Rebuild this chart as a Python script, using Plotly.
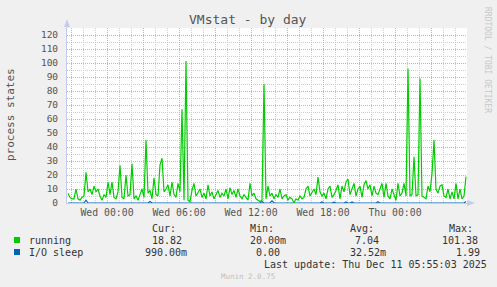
import datetime as dt
import plotly.graph_objects as go

# ---------------- data ----------------
start_time = "2025-12-09 20:45"
step_minutes = 10

running = [
    7, 4, 3, 3, 10, 3, 2, 4, 5, 22,
    8, 10, 6, 12, 8, 10, 5, 2, 6, 4,
    15, 6, 15, 4, 3, 8, 27, 4, 3, 20,
    5, 6, 28, 3, 5, 2, 6, 10, 4, 45,
    7, 9, 3, 18, 6, 5, 27, 32, 8, 10,
    13, 5, 15, 6, 4, 14, 8, 67, 2, 101.38,
    2, 1, 9, 14, 5, 8, 10, 4, 7, 3,
    13, 5, 8, 3, 6, 9, 4, 7, 5, 10,
    3, 11, 6, 9, 4, 10, 5, 3, 6, 4,
    2, 14, 5, 7, 3, 2, 1, 2, 85, 3,
    12, 5, 7, 3, 6, 4, 10, 3, 5, 6,
    2, 4, 3, 0.02, 3, 2, 5, 3, 4, 10,
    12, 5, 8, 10, 6, 18.5, 8, 5, 7, 3,
    10, 12, 4, 6, 9, 13, 3, 12, 8, 15,
    17, 6, 10, 14, 5, 10, 12, 4, 13, 16,
    10, 13, 5, 12, 7, 6, 10, 14, 4, 14,
    5, 3, 10, 6, 2, 14, 5, 7, 14, 5,
    96, 5, 6, 33, 5, 6, 89, 5, 4, 3,
    12, 8, 21, 45, 10, 7, 12, 13, 5, 4,
    10, 3, 8, 3, 14, 3, 10, 3, 5, 18.82,
]

io_sleep = [
    0, 0, 0, 0, 0, 0, 0, 0, 0, 1.99,
    0, 0, 0, 0, 0, 0, 0, 0, 0, 0,
    0, 0, 0, 0, 0, 0, 0, 0, 0, 0,
    0, 0, 0, 0, 0, 0, 0, 0, 0, 0,
    0, 1, 0, 0, 0, 0, 0, 0, 0, 0,
    0, 0, 0, 0, 0, 0, 0, 0, 0, 0,
    0, 0, 0, 0, 0, 0, 0, 0, 0, 0,
    0, 0, 0, 0, 0, 0, 0, 0, 0, 0,
    0, 0, 0, 0, 0, 0, 0, 0, 0, 0,
    0, 0, 0, 0, 0, 0, 0, 1, 0, 0,
    0, 0, 1.5, 0, 0, 0, 0, 0, 0, 0,
    0, 0, 0, 0, 0, 0, 0, 0, 0, 0,
    0, 0, 0, 0, 0, 0, 0, 0.8, 0, 0,
    0, 0, 0, 0.6, 0, 0, 0, 0, 0, 0.8,
    0, 0, 0.7, 0, 0, 0, 0, 0, 0, 0,
    0, 0, 0, 0, 0, 0.9, 0, 0, 0, 0,
    0, 0, 0, 0, 0, 0, 0, 0, 0, 0,
    0, 0, 0, 0, 0, 0, 0, 0, 0, 0,
    0, 0, 0, 0, 0, 0, 0, 0, 0, 0,
    0, 0, 0, 0, 0, 0, 0, 0, 0, 0.99,
]

series_names = ["running", "I/O sleep"]
series_colors = ["#00CC00", "#0066B3"]
legend_header = ["Cur:", "Min:", "Avg:", "Max:"]
legend_values = [
    ["18.82", "20.00m", "7.04", "101.38"],
    ["990.00m", "0.00", "32.52m", "1.99"],
]
x_range = ["2025-12-09 20:40", "2025-12-11 06:00"]
x_tick_times = ["2025-12-09 21:00", "2025-12-10 00:00", "2025-12-10 03:00",
                "2025-12-10 06:00", "2025-12-10 09:00", "2025-12-10 12:00",
                "2025-12-10 15:00", "2025-12-10 18:00", "2025-12-10 21:00",
                "2025-12-11 00:00", "2025-12-11 03:00"]
x_tick_labels = ["", "Wed 00:00", "", "Wed 06:00", "", "Wed 12:00", "",
                 "Wed 18:00", "", "Thu 00:00", ""]
title_text = "VMstat - by day"
y_title = "process states"
last_update = "Last update: Thu Dec 11 05:55:03 2025"
footer = "Munin 2.0.75"
side_text = "RRDTOOL / TOBI OETIKER"

# ---------------- layout geometry ----------------
W, H = 497, 287
L, R, T, B = 67, 467, 28, 203


def px(x):
    return (x - L) / (R - L)


def py(y):
    return (B - y) / (B - T)


t0 = dt.datetime.strptime(start_time, "%Y-%m-%d %H:%M")
times = [t0 + dt.timedelta(minutes=step_minutes * i) for i in range(len(running))]

MONO = "DejaVu Sans Mono"
MGRID = "#eba3a3"
GRID = "#cdcdcd"
AXIS = "#c4cbee"
DASH = "1px,1px"

fig = go.Figure()
fig.add_trace(go.Scatter(x=times, y=io_sleep, mode="lines", name=series_names[1],
                         line=dict(color=series_colors[1], width=1.2)))
fig.add_trace(go.Scatter(x=times, y=running, mode="lines", name=series_names[0],
                         line=dict(color=series_colors[0], width=1.2)))

fig.update_layout(
    width=W, height=H,
    margin=dict(l=L, r=W - R, t=T, b=H - B, pad=0),
    paper_bgcolor="#f0f0f0",
    plot_bgcolor="#ffffff",
    showlegend=False,
    font=dict(family=MONO, size=10, color="#555555"),
)

fig.update_xaxes(
    type="date", range=x_range,
    tickmode="array", tickvals=x_tick_times, ticktext=x_tick_labels,
    showgrid=True, gridcolor=MGRID, griddash=DASH, gridwidth=1,
    minor=dict(tick0="2025-12-09 21:00", dtick=3600000, showgrid=True,
               gridcolor=GRID, griddash=DASH, gridwidth=1, ticklen=0),
    ticks="", showline=True, linecolor=AXIS, linewidth=1,
    tickfont=dict(family=MONO, size=9.8, color="#555555"),
    ticklabelstandoff=0,
    zeroline=False, fixedrange=True,
)
fig.update_yaxes(
    range=[0, 125], dtick=10, tick0=0,
    showgrid=True, gridcolor=MGRID, griddash=DASH, gridwidth=1,
    minor=dict(dtick=5, tick0=0, showgrid=True, gridcolor=GRID,
               griddash=DASH, gridwidth=1, ticklen=0),
    ticks="", showline=True, linecolor=AXIS, linewidth=1,
    tickfont=dict(family=MONO, size=9.5, color="#555555"),
    ticklabelstandoff=6,
    zeroline=False, fixedrange=True,
)


def note(x, y, text, size=10, color="#333333", xanchor="left", angle=0):
    return dict(x=px(x), y=py(y), xref="paper", yref="paper", text=text,
                showarrow=False, textangle=angle,
                font=dict(family=MONO, size=size, color=color),
                xanchor=xanchor, yanchor="middle")


ann = []
ann.append(note(248, 19, title_text, size=13, color="#555555", xanchor="center"))
ann.append(note(10, 115, y_title, size=11, color="#555555", xanchor="center", angle=-90))
ann.append(note(488, 60, side_text, size=8, color="#c8c8c8", xanchor="center", angle=90))
for txt, xl in zip(legend_header, [150, 248, 348, 447]):
    ann.append(note(xl, 228, txt))
row_y = [240, 252]
value_left = [[150, 248, 353, 440], [143, 254, 348, 454]]
for k in range(2):
    ann.append(note(27, row_y[k], series_names[k]))
    for txt, xl in zip(legend_values[k], value_left[k]):
        ann.append(note(xl, row_y[k], txt))
ann.append(note(262, 264, last_update))
ann.append(note(248, 276, footer, size=7.5, color="#c0c0c0", xanchor="center"))
fig.update_layout(annotations=ann)

shapes = []
for k in range(2):
    shapes.append(dict(type="rect", xref="paper", yref="paper",
                       x0=px(14), x1=px(20), y0=py(row_y[k] - 3), y1=py(row_y[k] + 3),
                       fillcolor=series_colors[k], line=dict(width=0)))
shapes.append(dict(type="line", xref="paper", yref="paper",
                   x0=px(L), x1=px(L), y0=py(T), y1=py(24),
                   line=dict(color=AXIS, width=1)))
shapes.append(dict(type="path", xref="paper", yref="paper",
                   path=f"M {px(64)},{py(27)} L {px(70)},{py(27)} L {px(67)},{py(19)} Z",
                   fillcolor=AXIS, line=dict(width=0)))
shapes.append(dict(type="path", xref="paper", yref="paper",
                   path=f"M {px(467)},{py(200)} L {px(467)},{py(206)} L {px(475)},{py(203)} Z",
                   fillcolor=AXIS, line=dict(width=0)))
fig.update_layout(shapes=shapes)

fig.write_html("out.html")
